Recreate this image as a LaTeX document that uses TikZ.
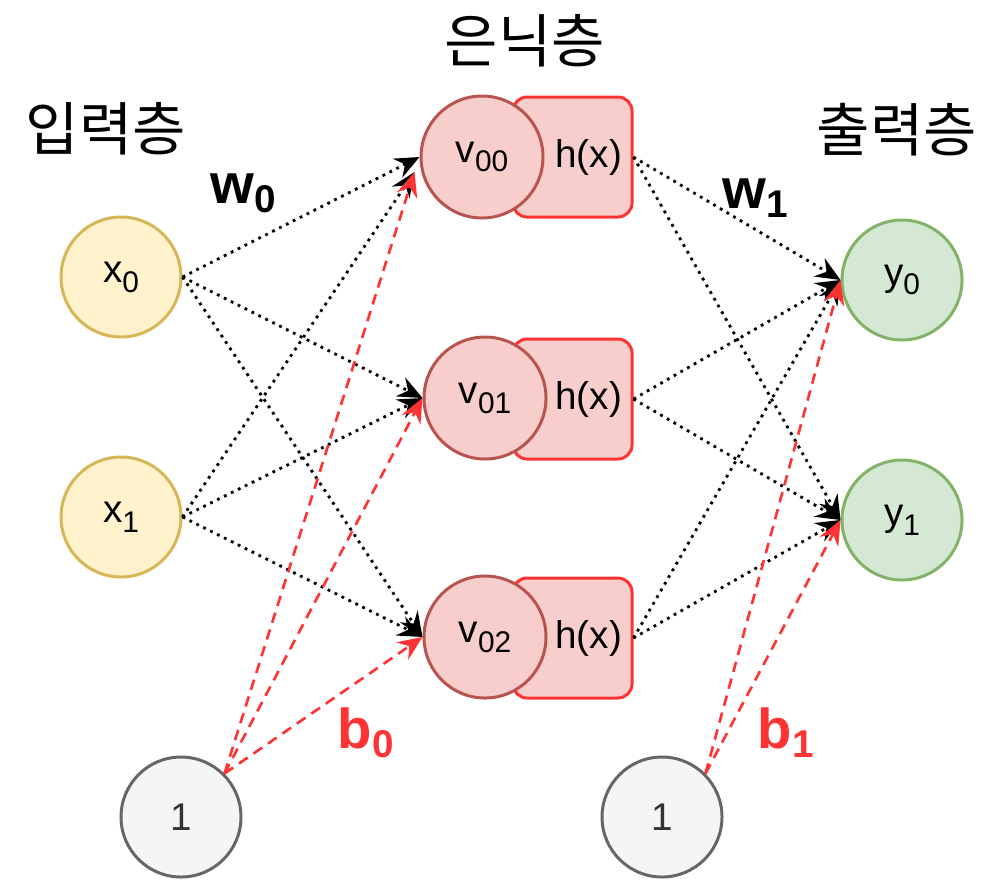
\documentclass[tikz,border=0pt]{standalone}
\usepackage{fontspec}
\setmainfont{Liberation Sans}
\newfontfamily\kr{Noto Sans CJK KR}
\usetikzlibrary{arrows.meta,calc}

\definecolor{inFill}{HTML}{FFF2CC}
\definecolor{inLine}{HTML}{D6B656}
\definecolor{hidFill}{HTML}{F8CECC}
\definecolor{hidLine}{HTML}{B85450}
\definecolor{hotRed}{HTML}{FF3333}
\definecolor{outFill}{HTML}{D5E8D4}
\definecolor{outLine}{HTML}{82B366}
\definecolor{oneFill}{HTML}{F5F5F5}
\definecolor{oneLine}{HTML}{666666}
\definecolor{oneText}{HTML}{333333}

\newcommand{\nsub}[1]{\raisebox{-2.8pt}{\fontsize{8.5}{9}\selectfont #1}}
\newcommand{\bsub}[1]{\raisebox{-2.8pt}{\fontsize{11}{12}\selectfont #1}}

\tikzset{
    neuron/.style={circle, line width=0.85pt, minimum size=1.2cm, inner sep=0pt, font=\fontsize{11}{12}\selectfont},
    inneuron/.style={neuron, draw=inLine, fill=inFill},
    hidneuron/.style={neuron, draw=hidLine, fill=hidFill, minimum size=1.22cm},
    outneuron/.style={neuron, draw=outLine, fill=outFill},
    oneneuron/.style={neuron, draw=oneLine, fill=oneFill, text=oneText},
    actbox/.style={rectangle, rounded corners=4pt, draw=hotRed, fill=hidFill, line width=0.85pt,
        text width=0.99cm, align=right, inner sep=0.1cm, minimum height=1.2cm, font=\fontsize{11}{12}\selectfont},
    layertitle/.style={font=\kr\fontsize{16.5}{18}\selectfont},
    weightlbl/.style={anchor=base west, inner sep=0pt, font=\bfseries\fontsize{16}{18}\selectfont},
    wline/.style={line width=0.8pt, dash pattern=on 0.8pt off 1.4pt, -{Stealth[length=7pt,width=6pt,inset=2.4pt]}},
    bline/.style={hotRed, line width=0.75pt, dash pattern=on 3pt off 2pt, -{Stealth[length=7pt,width=6pt,inset=2.4pt]}}
}

\begin{document}
\begin{tikzpicture}
    \useasboundingbox (0,0) rectangle (10.08,8.79);

    \node[layertitle] (tin) at (1.06,7.50) {입력층};
    \node[layertitle] (thid) at (5.25,8.38) {은닉층};
    \node[layertitle] (tout) at (8.97,7.49) {출력층};

    \node[inneuron] (x0) at (1.21,6.02) {x\nsub{0}};
    \node[inneuron] (x1) at (1.21,3.62) {x\nsub{1}};

    \node[actbox] (h0) at (5.725,7.22) {h(x)};
    \node[hidneuron] (v00) at (4.82,7.22) {v\nsub{00}};
    \node[actbox] (h1) at (5.725,4.80) {h(x)};
    \node[hidneuron] (v01) at (4.85,4.81) {v\nsub{01}};
    \node[actbox] (h2) at (5.725,2.41) {h(x)};
    \node[hidneuron] (v02) at (4.85,2.42) {v\nsub{02}};

    \node[outneuron] (y0) at (9.02,5.99) {y\nsub{0}};
    \node[outneuron] (y1) at (9.02,3.59) {y\nsub{1}};

    \node[oneneuron] (one0) at (1.81,0.62) {1};
    \node[oneneuron] (one1) at (6.62,0.62) {1};

    \node[weightlbl] (w0) at (2.10,6.76) {w\bsub{0}};
    \node[weightlbl] (w1) at (7.22,6.71) {w\bsub{1}};
    \node[weightlbl, text=hotRed] (b0) at (3.37,1.31) {b\bsub{0}};
    \node[weightlbl, text=hotRed] (b1) at (7.57,1.31) {b\bsub{1}};

    \coordinate (v00in) at ($(v00.west)+(-0.05,-0.15)$);

    \draw[wline] (x0.east) -- (v00.west);
    \draw[wline] (x0.east) -- (v01.west);
    \draw[wline] (x0.east) -- (v02.west);
    \draw[wline] (x1.east) -- (v00in);
    \draw[wline] (x1.east) -- (v01.west);
    \draw[wline] (x1.east) -- (v02.west);

    \draw[wline] (h0.east) -- (y0.west);
    \draw[wline] (h0.east) -- (y1.west);
    \draw[wline] (h1.east) -- (y0.west);
    \draw[wline] (h1.east) -- (y1.west);
    \draw[wline] (h2.east) -- (y0.west);
    \draw[wline] (h2.east) -- (y1.west);

    \draw[bline] (one0.north east) -- (v00in);
    \draw[bline] (one0.north east) -- (v01.west);
    \draw[bline] (one0.north east) -- (v02.west);
    \draw[bline] (one1.north east) -- (y0.west);
    \draw[bline] (one1.north east) -- (y1.west);
\end{tikzpicture}
\end{document}
